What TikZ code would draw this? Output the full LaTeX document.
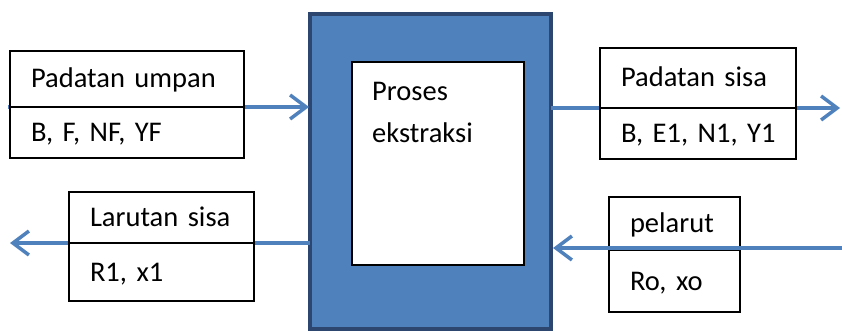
\documentclass[tikz,border=0pt]{standalone}
\usepackage{fontspec}
\setmainfont{Carlito}
\usetikzlibrary{arrows.meta,positioning}
\definecolor{biru}{RGB}{79,129,189}
\definecolor{birutua}{RGB}{44,70,112}
\begin{document}
\begin{tikzpicture}[x=1pt,y=-1pt,
  sel/.style={draw=black,line width=1.2pt,fill=white,outer sep=0pt,inner sep=0pt,text height=18pt,text depth=0pt,
    align=left,execute at begin node={\hspace*{21pt}},font=\fontsize{28.5}{35}\selectfont},
  alir/.style={draw=biru,line width=3.5pt,-{Straight Barb[length=16pt,width=24pt]}}]
 \useasboundingbox (0,0) rectangle (842,331);
 % alat ekstraksi
 \node[draw=birutua,line width=4pt,fill=biru,outer sep=0pt,minimum width=241pt,minimum height=315pt] (kotak) at (430.5,171.5) {};
 \node[draw=black,line width=1.5pt,fill=white,outer sep=0pt,minimum width=172pt,minimum height=203pt] (inti) at (438,163.5) {};
 \node[anchor=north west,inner sep=0pt,align=left,font=\fontsize{28.5}{42}\selectfont] (judul)
   at ([xshift=20pt,yshift=-20pt]inti.north west) {Proses\\ekstraksi};
 \coordinate (masuk) at (8,107);
 \coordinate (keluar) at (840,108);
 \coordinate (buang) at (10,243);
 \coordinate (pompa) at (842,248);
 \draw[alir,shorten >=1pt] (masuk) -- (kotak.west |- masuk);
 \draw[alir] (kotak.east |- keluar) -- (keluar);
 \draw[alir] (kotak.west |- buang) -- (buang);
 % aliran
 \node[sel,anchor=north west,text width=234pt,minimum height=56pt] (umpan) at (10,51) {Padatan umpan};
 \node[sel,below=0pt of umpan,text width=234pt,minimum height=51pt] (umpanB) {B, F, NF, YF};
 \node[sel,anchor=north west,text width=196pt,minimum height=60pt] (sisa) at (600,48) {Padatan sisa};
 \node[sel,below=0pt of sisa,text width=196pt,minimum height=51pt] (sisaB) {B, E1, N1, Y1};
 \node[sel,anchor=north west,text width=185pt,minimum height=51pt] (larutan) at (69,192) {Larutan sisa};
 \node[sel,below=0pt of larutan,text width=185pt,minimum height=58pt] (larutanB) {R1, x1};
 \node[sel,anchor=north west,text width=131pt,minimum height=53pt] (pelarut) at (609,197) {pelarut};
 \node[sel,below=0pt of pelarut,text width=131pt,minimum height=62pt] (pelarutB) {Ro, xo};
 \draw[alir] (pompa) -- ([xshift=2pt]kotak.east |- pompa);
\end{tikzpicture}
\end{document}
